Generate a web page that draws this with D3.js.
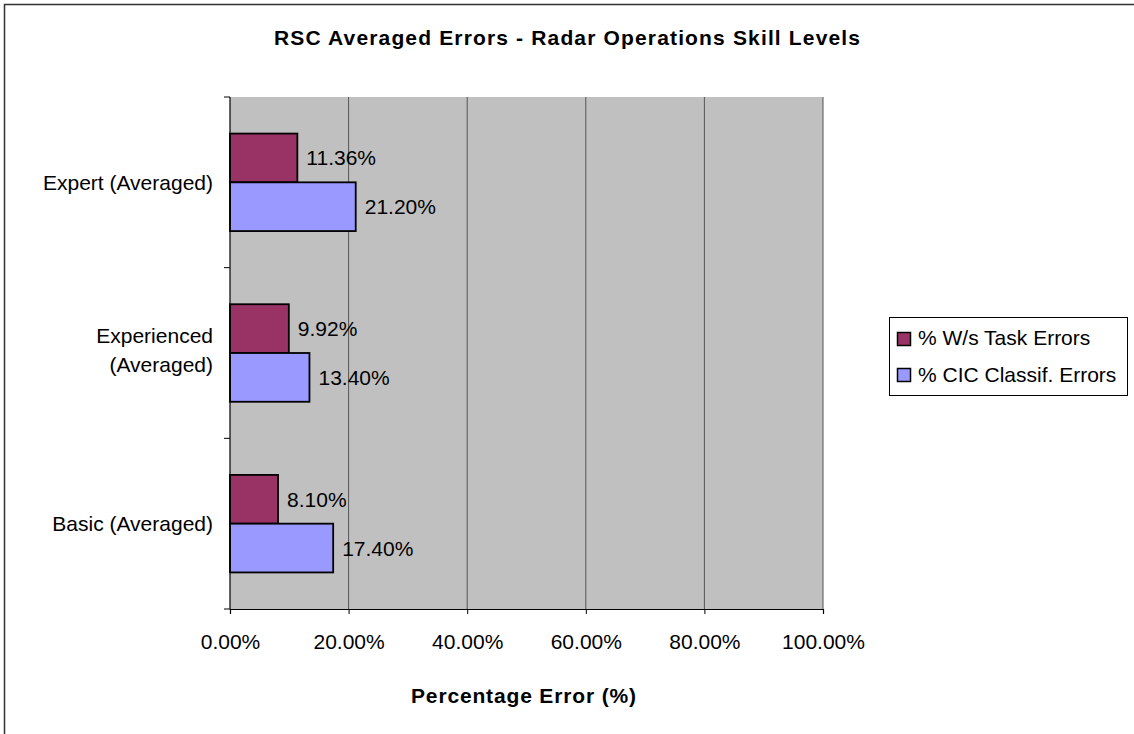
<!DOCTYPE html>
<html><head><meta charset="utf-8">
<script src="https://cdn.jsdelivr.net/npm/d3@7"></script>
<style>body{margin:0;background:#fff}svg{display:block;font-family:"Liberation Sans",Arial,sans-serif}</style>
</head><body><svg id="c" width="1134" height="734"></svg>
<script>
const categories = [["Expert (Averaged)"], ["Experienced", "(Averaged)"], ["Basic (Averaged)"]];
const seriesNames = ["% W/s Task Errors", "% CIC Classif. Errors"];
const taskErrors = [11.36, 9.92, 8.10];
const cicErrors = [21.20, 13.40, 17.40];
const xTicks = [0, 20, 40, 60, 80, 100];
const colors = ["#993366", "#9999ff"];

const FS = 21;
const svg = d3.select("#c");
svg.append("rect").attr("x",4.5).attr("y",4.5).attr("width",1140).attr("height",740)
  .attr("fill","#fff").attr("stroke","#333").attr("stroke-width",1.5);

const L=230, R=823, T=97, B=609;
const x = d3.scaleLinear().domain([0,100]).range([L,R]);
const catKeys = categories.map((c,i)=>i);
const y = d3.scaleBand().domain(catKeys).range([T,B]).paddingInner(0).paddingOuter(0);
const bw = y.bandwidth()/3.5;

svg.append("rect").attr("x",L).attr("y",T).attr("width",R-L).attr("height",B-T).attr("fill","#c0c0c0");
svg.append("g").selectAll("line").data(xTicks.slice(1)).join("line")
  .attr("x1",d=>x(d)).attr("x2",d=>x(d)).attr("y1",T).attr("y2",B)
  .attr("stroke","#555").attr("stroke-width",1);

const data = [taskErrors, cicErrors];
data.forEach((vals,s)=>{
  const g = svg.append("g");
  g.selectAll("rect").data(vals).join("rect")
    .attr("x",x(0)).attr("y",(d,i)=>y(i)+bw*0.75+s*bw)
    .attr("width",d=>x(d)-x(0)).attr("height",bw)
    .attr("fill",colors[s]).attr("stroke","#000").attr("stroke-width",1.8);
  g.selectAll("text").data(vals).join("text")
    .attr("x",d=>x(d)+9).attr("y",(d,i)=>y(i)+bw*0.75+s*bw+bw/2+7.5)
    .attr("font-size",FS).attr("fill","#000").text(d=>d.toFixed(2)+"%");
});

const xa = svg.append("g").attr("transform",`translate(0,${B})`)
  .call(d3.axisBottom(x).tickValues(xTicks).tickSize(5).tickFormat(d=>d.toFixed(2)+"%"));
xa.select(".domain").attr("stroke","#000").attr("stroke-width",1.2);
xa.selectAll(".tick line").attr("stroke","#000");
xa.selectAll("text").attr("font-size",FS).attr("font-family","Liberation Sans, Arial, sans-serif")
  .attr("y",40).attr("dy",0).attr("fill","#000");

const yTickPos = d3.range(categories.length+1).map(i=>T+i*y.step());
svg.append("line").attr("x1",L).attr("x2",L).attr("y1",T).attr("y2",B).attr("stroke","#000").attr("stroke-width",1.2);
svg.append("g").selectAll("line").data(yTickPos).join("line")
  .attr("x1",L-6).attr("x2",L).attr("y1",d=>d).attr("y2",d=>d).attr("stroke","#000");
svg.append("g").selectAll("text").data(categories).join("text")
  .attr("x",213).attr("y",(d,i)=>y(i)+y.bandwidth()/2+7.5-(d.length-1)*17.5)
  .attr("text-anchor","end").attr("font-size",FS).attr("fill","#000")
  .each(function(d){
    d3.select(this).selectAll("tspan").data(d).join("tspan")
      .attr("x",213).attr("dy",(t,j)=>j?29:0).text(t=>t);
  });

svg.append("text").attr("x",567).attr("y",45).attr("text-anchor","middle")
  .attr("font-size",21).attr("font-weight","bold").attr("textLength",586).attr("lengthAdjust","spacing")
  .text("RSC Averaged Errors - Radar Operations Skill Levels");
svg.append("text").attr("x",523.5).attr("y",703).attr("text-anchor","middle")
  .attr("font-size",21).attr("font-weight","bold").attr("textLength",225).attr("lengthAdjust","spacing")
  .text("Percentage Error (%)");

const lg = svg.append("g");
lg.append("rect").attr("x",889.5).attr("y",317.5).attr("width",238).attr("height",78)
  .attr("fill","#fff").attr("stroke","#000").attr("stroke-width",1);
seriesNames.forEach((n,i)=>{
  lg.append("rect").attr("x",897.5).attr("y",332.5+i*36).attr("width",13).attr("height",13)
    .attr("fill",colors[i]).attr("stroke","#000").attr("stroke-width",1.5);
  lg.append("text").attr("x",918).attr("y",345+i*37).attr("font-size",FS).text(n);
});
</script></body></html>
